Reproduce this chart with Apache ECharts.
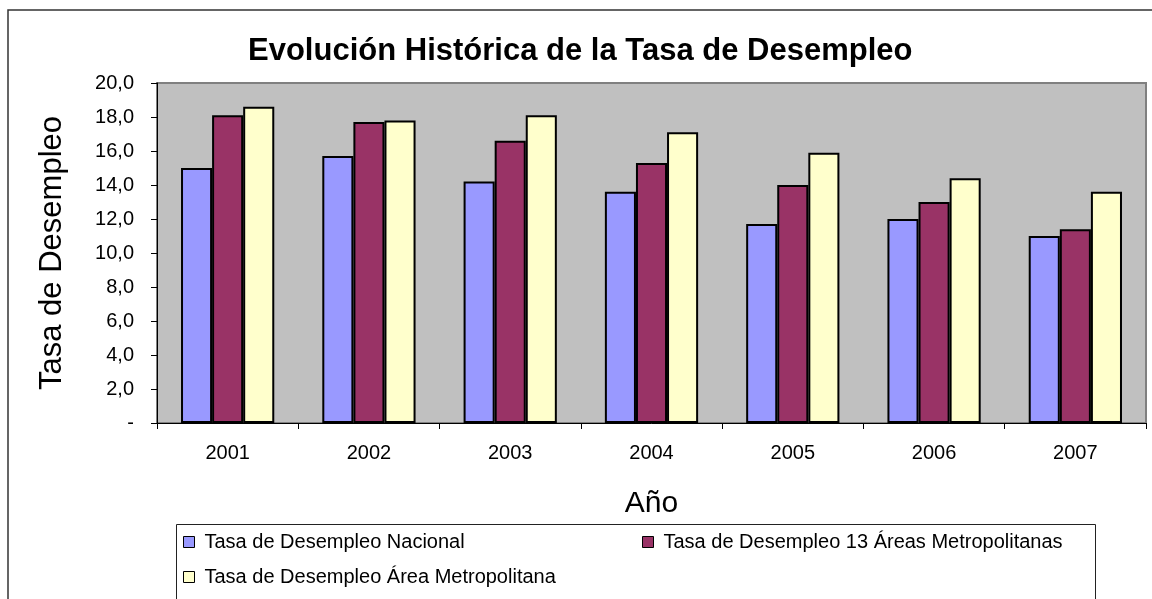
<!DOCTYPE html>
<html>
<head>
<meta charset="utf-8">
<script src="https://cdn.jsdelivr.net/npm/echarts@6/dist/echarts.min.js"></script>
<style>
html, body { margin: 0; padding: 0; background: #fff; }
#chart { width: 1152px; height: 599px; }
</style>
</head>
<body>
<div id="chart"></div>
<script>
var years = ['2001', '2002', '2003', '2004', '2005', '2006', '2007'];
var nacional = [15.0, 15.7, 14.2, 13.6, 11.7, 12.0, 11.0];
var areas13 = [18.1, 17.7, 16.6, 15.3, 14.0, 13.0, 11.4];
var areaMetro = [18.6, 17.8, 18.1, 17.1, 15.9, 14.4, 13.6];
var seriesNames = [
	'Tasa de Desempleo Nacional',
	'Tasa de Desempleo 13 Áreas Metropolitanas',
	'Tasa de Desempleo Área Metropolitana'
];

var FONT = '"Liberation Sans", Arial, sans-serif';

function bar(name, data, color) {
	return {
		name: name,
		type: 'bar',
		data: data,
		barGap: '0%',
		barCategoryGap: '34%',
		itemStyle: { color: color, borderColor: '#000', borderWidth: 2 }
	};
}

function legendItem(name, left, top) {
	return {
		data: [name],
		left: left,
		top: top,
		padding: 0,
		icon: 'rect',
		itemWidth: 11,
		itemHeight: 11,
		itemStyle: { borderColor: '#000', borderWidth: 1 },
		textStyle: { fontFamily: FONT, fontSize: 20, color: '#000', padding: [0, 0, 0, 5] },
		selectedMode: false
	};
}

var myChart = echarts.init(document.getElementById('chart'));
var option = {
	backgroundColor: '#fff',
	animation: false,
	title: {
		text: 'Evolución Histórica de la Tasa de Desempleo',
		left: 248,
		top: 36,
		padding: 0,
		textStyle: { fontFamily: FONT, fontSize: 31, fontWeight: 'bold', color: '#000' }
	},
	legend: [
		legendItem(seriesNames[0], 183, 532),
		legendItem(seriesNames[1], 642, 532),
		legendItem(seriesNames[2], 183, 567)
	],
	grid: {
		left: 157,
		top: 83,
		right: 6,
		bottom: 176,
		show: true,
		backgroundColor: '#c0c0c0',
		borderColor: '#808080',
		borderWidth: 2,
		containLabel: false,
		outerBoundsMode: 'none'
	},
	xAxis: {
		type: 'category',
		data: years,
		name: 'Año',
		nameLocation: 'middle',
		nameGap: 66,
		nameTextStyle: { fontFamily: FONT, fontSize: 30, color: '#000' },
		axisLine: { lineStyle: { color: '#000', width: 1 } },
		axisTick: { show: true, length: 6, lineStyle: { color: '#000' } },
		axisLabel: { fontFamily: FONT, fontSize: 20, color: '#000', margin: 20 }
	},
	yAxis: {
		type: 'value',
		min: 0,
		max: 20,
		interval: 2,
		name: 'Tasa de Desempleo',
		nameLocation: 'middle',
		nameGap: 89,
		nameTextStyle: { fontFamily: FONT, fontSize: 31, color: '#000' },
		axisLine: { show: true, lineStyle: { color: '#000', width: 1 } },
		axisTick: { show: true, length: 6, lineStyle: { color: '#000' } },
		splitLine: { show: false },
		axisLabel: {
			fontFamily: FONT,
			fontSize: 20,
			color: '#000',
			margin: 23,
			formatter: function (v) {
				return v === 0 ? '-' : v.toFixed(1).replace('.', ',');
			}
		}
	},
	series: [
		bar(seriesNames[0], nacional, '#9999ff'),
		bar(seriesNames[1], areas13, '#993366'),
		bar(seriesNames[2], areaMetro, '#ffffcc')
	],
	graphic: [
		{
			type: 'rect',
			silent: true,
			shape: { x: 8, y: 10, width: 1300, height: 800 },
			style: { fill: 'none', stroke: '#333', lineWidth: 1.5 }
		},
		{
			type: 'rect',
			silent: true,
			shape: { x: 176.5, y: 524.5, width: 919, height: 200 },
			style: { fill: 'none', stroke: '#222', lineWidth: 1 }
		}
	]
};
myChart.setOption(option);
</script>
</body>
</html>
